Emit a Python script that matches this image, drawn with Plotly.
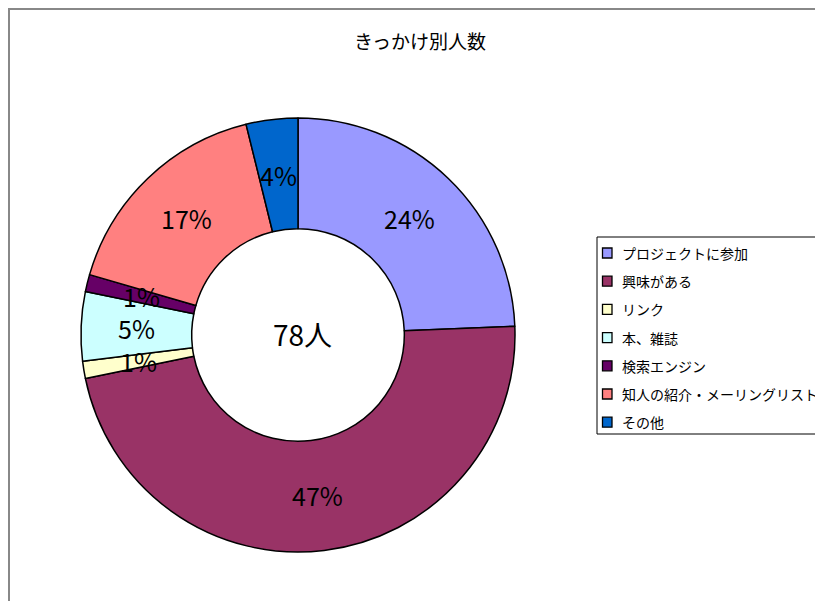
import math
import plotly.graph_objects as go

title = "きっかけ別人数"
labels = ["プロジェクトに参加", "興味がある", "リンク", "本、雑誌", "検索エンジン", "知人の紹介・メーリングリスト", "その他"]
values = [19, 37, 1, 4, 1, 13, 3]
colors = ["#9999FF", "#993366", "#FFFFCC", "#CCFFFF", "#660066", "#FF8080", "#0066CC"]
total_suffix = "人"

FONT = "Noto Sans CJK JP"
W, H = 823, 601
OFF = 8  # page body margin


def px(x):
    return (x - OFF) / W


def py(y):
    return 1 - (y - OFF) / H


# pie geometry (window pixels)
CX, CY, R_OUT, HOLE = 298, 335, 217, 0.49
R_MID = R_OUT * (1 + HOLE) / 2

fig = go.Figure()
fig.add_trace(go.Pie(
    labels=labels, values=values, sort=False, direction="clockwise", rotation=0,
    hole=HOLE,
    marker=dict(colors=colors, line=dict(color="black", width=1.5)),
    textinfo="none",
    showlegend=False, hoverinfo="label+value+percent",
    domain=dict(x=[px(CX - R_OUT), px(CX + R_OUT)], y=[py(CY + R_OUT), py(CY - R_OUT)]),
))

# percentage labels at mid-radius of each slice
total = sum(values)
cum = 0
for v in values:
    theta = 2 * math.pi * (cum + v / 2) / total
    cum += v
    x = CX + R_MID * math.sin(theta)
    y = CY - R_MID * math.cos(theta)
    fig.add_annotation(x=px(x), y=py(y), xref="paper", yref="paper",
                       text=f"{round(100 * v / total)}%", showarrow=False,
                       xanchor="center", yanchor="middle",
                       font=dict(family=FONT, size=25, color="black"))

# centre total
fig.add_annotation(
    x=px(302), y=py(334), xref="paper", yref="paper",
    text=f"{total}{total_suffix}", showarrow=False,
    font=dict(family=FONT, size=28, color="black"),
)

# border of chart area
fig.add_shape(type="line", xref="paper", yref="paper",
              x0=1 / W, x1=1 / W, y0=-0.05, y1=1, line=dict(color="#888888", width=2))
fig.add_shape(type="line", xref="paper", yref="paper",
              x0=0, x1=1.05, y0=1 - 1 / H, y1=1 - 1 / H, line=dict(color="#888888", width=2))

# legend drawn manually
LX0, LX1, LY0, LY1 = 597, 820, 237, 434
fig.add_shape(type="rect", xref="paper", yref="paper",
              x0=px(LX0), x1=px(LX1), y0=py(LY1), y1=py(LY0),
              line=dict(color="black", width=1), fillcolor="white")
step = 28.2
for i, (lab, col) in enumerate(zip(labels, colors)):
    cy = 253 + i * step
    fig.add_shape(type="rect", xref="paper", yref="paper",
                  x0=px(602.5), x1=px(612), y0=py(cy + 5), y1=py(cy - 5),
                  line=dict(color="black", width=1.3), fillcolor=col)
    fig.add_annotation(x=px(620), y=py(cy), xref="paper", yref="paper",
                       text=lab, showarrow=False, xanchor="left", yanchor="middle",
                       font=dict(family=FONT, size=14, color="black"))

fig.update_layout(
    width=W, height=H, margin=dict(l=0, r=0, t=0, b=0),
    paper_bgcolor="white", plot_bgcolor="white",
    title=dict(text=title, x=px(420), xanchor="center", y=py(42), yanchor="middle",
               font=dict(family=FONT, size=19, color="black")),
    showlegend=False,
    font=dict(family=FONT),
)

fig.write_html("out.html")
